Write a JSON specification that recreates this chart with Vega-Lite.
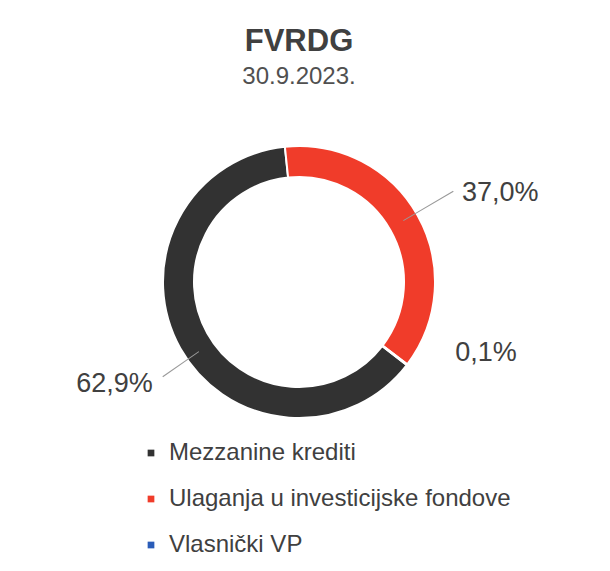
{
  "$schema": "https://vega.github.io/schema/vega-lite/v6.json",
  "width": 598,
  "height": 564,
  "autosize": "none",
  "padding": 0,
  "background": "white",
  "config": {"view": {"stroke": null}, "font": "Liberation Sans"},
  "title": {
    "text": "FVRDG",
    "subtitle": "30.9.2023.",
    "anchor": "middle",
    "orient": "top",
    "offset": -90,
    "fontSize": 31,
    "fontWeight": "bold",
    "color": "#404040",
    "subtitleFontSize": 24,
    "subtitleColor": "#505050",
    "subtitlePadding": 7,
    "font": "Liberation Sans",
    "subtitleFont": "Liberation Sans"
  },
  "data": {
    "values": [
      {"category": "Mezzanine krediti", "share": 62.9, "label": "62,9%"},
      {"category": "Ulaganja u investicijske fondove", "share": 37.0, "label": "37,0%"},
      {"category": "Vlasnički VP", "share": 0.1, "label": "0,1%"}
    ]
  },
  "transform": [
    {"stack": "share", "groupby": [], "sort": [{"field": "category", "order": "ascending"}], "as": ["s0", "s1"]}
  ],
  "encoding": {
    "color": {
      "field": "category",
      "type": "nominal",
      "scale": {
        "domain": ["Mezzanine krediti", "Ulaganja u investicijske fondove", "Vlasnički VP"],
        "range": ["#323232", "#f03c2a", "#2a5cb8"]
      },
      "legend": {
        "orient": "none",
        "legendX": 139,
        "legendY": 441,
        "title": null,
        "symbolType": "square",
        "symbolSize": 45,
        "symbolStrokeWidth": 0,
        "labelFontSize": 24,
        "labelColor": "#404040",
        "labelFont": "Liberation Sans",
        "labelOffset": 6,
        "rowPadding": 22,
        "labelLimit": 500
      }
    }
  },
  "layer": [
    {
      "mark": {"type": "arc", "innerRadius": 105, "outerRadius": 136, "stroke": "white", "strokeWidth": 2},
      "encoding": {
        "theta": {"field": "s0", "type": "quantitative", "stack": null, "scale": {"domain": [0, 100], "range": [-4.056, 2.2272]}},
        "theta2": {"field": "s1"}
      }
    },
    {
      "transform": [{"filter": "datum.category === 'Ulaganja u investicijske fondove'"}],
      "mark": {"type": "arc", "innerRadius": 121, "outerRadius": 179, "thetaOffset": 1.140, "theta2Offset": 1.147, "color": "#9a9a9a"},
      "encoding": {
        "theta": {"field": "s0", "type": "quantitative", "stack": null},
        "theta2": {"field": "s0"},
        "color": {"value": "#9a9a9a"}
      }
    },
    {
      "transform": [{"filter": "datum.category === 'Mezzanine krediti'"}],
      "mark": {"type": "arc", "innerRadius": 122, "outerRadius": 166, "thetaOffset": 1.874, "theta2Offset": 1.881, "color": "#9a9a9a"},
      "encoding": {
        "theta": {"field": "s0", "type": "quantitative", "stack": null},
        "theta2": {"field": "s0"},
        "color": {"value": "#9a9a9a"}
      }
    },
    {
      "transform": [{"filter": "datum.category === 'Ulaganja u investicijske fondove'"}],
      "mark": {"type": "text", "radius": 220, "thetaOffset": 1.258, "fontSize": 27, "font": "Liberation Sans"},
      "encoding": {
        "theta": {"field": "s0", "type": "quantitative", "stack": null},
        "text": {"field": "label"},
        "color": {"value": "#404040"}
      }
    },
    {
      "transform": [{"filter": "datum.category === 'Vlasnički VP'"}],
      "mark": {"type": "text", "radius": 200, "thetaOffset": -0.288, "fontSize": 27, "font": "Liberation Sans"},
      "encoding": {
        "theta": {"field": "s0", "type": "quantitative", "stack": null},
        "text": {"field": "label"},
        "color": {"value": "#404040"}
      }
    },
    {
      "transform": [{"filter": "datum.category === 'Mezzanine krediti'"}],
      "mark": {"type": "text", "radius": 211, "thetaOffset": 1.979, "fontSize": 27, "font": "Liberation Sans"},
      "encoding": {
        "theta": {"field": "s0", "type": "quantitative", "stack": null},
        "text": {"field": "label"},
        "color": {"value": "#404040"}
      }
    }
  ]
}
